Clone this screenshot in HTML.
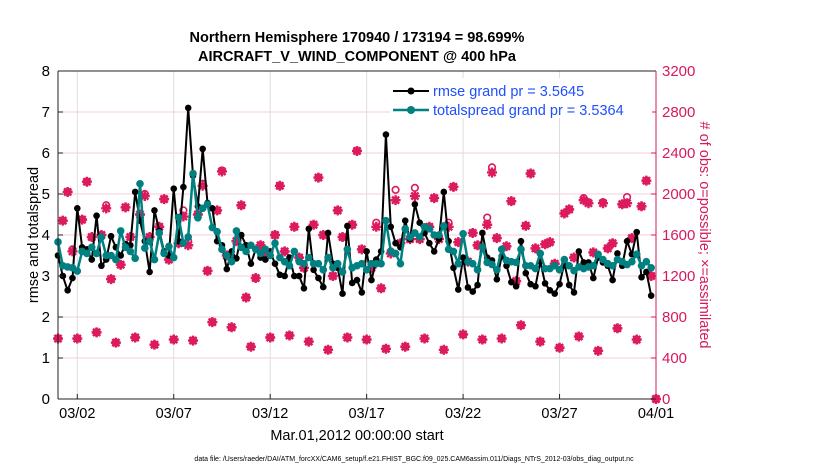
<!DOCTYPE html>
<html><head><meta charset="utf-8"><style>
body{margin:0;background:#fff;}
svg{display:block;font-family:"Liberation Sans",Arial,sans-serif;}
</style></head><body>
<svg id="chart" width="830" height="470" viewBox="0 0 830 470" xmlns="http://www.w3.org/2000/svg">
<rect x="0" y="0" width="830" height="470" fill="#fff"/>
<g id="grid"></g>
<g id="obs"></g>
<g id="lines"></g>
<g id="axes"></g>
<text x="357" y="42" text-anchor="middle" font-size="14.5" font-weight="bold">Northern Hemisphere 170940 / 173194 = 98.699%</text>
<text x="357" y="61" text-anchor="middle" font-size="14.5" font-weight="bold">AIRCRAFT_V_WIND_COMPONENT @ 400 hPa</text>
<text transform="translate(38,235) rotate(-90)" text-anchor="middle" font-size="14.5">rmse and totalspread</text>
<text transform="translate(700,235) rotate(90)" text-anchor="middle" font-size="14.5" fill="#d6195f"># of obs: o=possible; ×=assimilated</text>
<text x="357" y="440" text-anchor="middle" font-size="14.5">Mar.01,2012 00:00:00 start</text>
<text x="414" y="461" text-anchor="middle" font-size="7">data file: /Users/raeder/DAI/ATM_forcXX/CAM6_setup/f.e21.FHIST_BGC.f09_025.CAM6assim.011/Diags_NTrS_2012-03/obs_diag_output.nc</text>
<g id="legend">
<rect x="390" y="78" width="262" height="40" fill="#fff"/>
<line x1="393" y1="91" x2="429" y2="91" stroke="#000" stroke-width="2"/>
<circle cx="411" cy="91" r="3.5" fill="#000"/>
<text x="433" y="96" font-size="14.5" fill="#1f4fff">rmse grand pr = 3.5645</text>
<line x1="393" y1="110" x2="429" y2="110" stroke="#008080" stroke-width="2.5"/>
<circle cx="411" cy="110" r="4" fill="#008080"/>
<text x="433" y="115" font-size="14.5" fill="#1f4fff">totalspread grand pr = 3.5364</text>
</g>
</svg>
<script>
const xTickLabels = ["03/02","03/07","03/12","03/17","03/22","03/27","04/01"];
const xTickDays = [1,6,11,16,21,26,31];
const yTicksLeft = [0,1,2,3,4,5,6,7,8];
const yTicksRight = [0,400,800,1200,1600,2000,2400,2800,3200];
const rmse = [3.5,3.0,2.65,2.95,4.65,3.7,3.65,3.4,4.47,3.25,3.4,3.97,3.7,3.5,3.78,3.75,5.05,4.35,3.85,3.1,4.6,4.1,3.6,3.5,5.13,3.85,5.17,7.1,5.45,4.7,6.1,4.78,4.65,3.85,3.75,3.17,3.6,3.43,
4.0,3.75,3.3,3.65,3.45,3.4,3.6,3.3,3.03,3.0,3.45,3.0,3.0,2.7,4.15,3.15,2.95,2.73,4.05,3.3,3.2,2.57,4.22,2.83,2.9,2.6,3.6,2.9,3.4,3.6,6.45,4.2,3.8,3.7,4.35,3.9,4.75,4.3,4.05,3.8,3.6,3.9,
5.05,3.85,3.2,2.67,3.45,2.72,2.62,2.78,4.05,3.45,3.38,2.92,3.48,3.25,2.85,2.75,3.85,3.07,2.8,2.75,3.35,2.82,2.65,2.57,2.8,3.3,2.78,2.6,3.6,3.33,3.33,2.95,3.45,3.33,3.25,2.9,3.55,3.25,3.85,3.53,4.07,2.97,3.1,2.52];
const spread = [3.83,3.25,3.22,3.2,3.12,3.6,3.55,3.7,3.55,3.95,3.5,3.5,3.4,4.1,3.7,3.6,3.43,5.25,3.68,3.85,3.4,4.05,3.55,3.72,3.45,4.43,3.8,3.95,5.5,4.42,4.65,4.75,4.18,4.08,3.65,3.5,3.35,4.1,
3.7,3.6,3.75,3.65,3.55,3.65,3.5,3.8,3.45,3.35,3.25,3.6,3.35,3.3,3.45,3.3,3.3,3.15,3.45,3.2,3.3,3.1,3.65,3.2,3.25,3.3,3.15,3.3,3.3,3.3,4.35,3.6,3.55,3.3,4.15,3.95,4.05,3.95,4.2,4.15,4.0,4.0,
4.22,3.65,3.6,3.3,4.03,3.35,3.3,3.15,3.7,3.33,3.28,3.15,3.65,3.38,3.35,3.33,3.65,3.25,3.25,3.18,3.55,3.18,3.18,3.25,3.15,3.4,3.25,3.13,3.22,3.18,3.22,3.25,3.53,3.4,3.3,3.25,3.4,3.35,3.28,3.35,3.53,3.25,3.35,3.2];
const assimilated = [590,1740,2020,1440,590,1750,2120,1580,650,1600,1860,1170,550,1310,1870,1580,600,1800,1980,1580,530,1680,1950,1360,580,1520,1780,1500,570,1800,2080,1250,750,1840,2220,1400,700,1540,1890,990,510,1180,1500,1420,600,1600,2080,1440,620,1680,1380,1280,560,1700,2160,1600,480,1200,1840,1580,600,1700,2420,1460,580,1280,1680,1080,490,1420,1940,1520,510,1560,1980,1560,590,1680,1960,1560,
480,1680,2070,1530,630,1340,1620,1500,580,1700,2210,1570,590,1490,1930,1150,720,1690,2200,1470,560,1510,1530,1320,500,1810,1850,1380,610,1940,1910,1430,470,1910,1470,1520,690,1900,1910,1570,580,1880,2130,1200,0];
const possible = [590,1740,2020,1460,590,1750,2120,1580,650,1600,1890,1170,550,1310,1870,1580,600,1800,2000,1580,530,1680,1950,1360,580,1520,1840,1540,570,1800,2100,1250,750,1840,2230,1400,700,1540,1890,990,510,1180,1500,1420,600,1600,2080,1440,620,1680,1380,1280,560,1700,2160,1600,480,1200,1840,1580,600,1700,2420,1460,580,1280,1720,1080,490,1440,2040,1520,510,1560,2060,1560,590,1680,1960,1580,
480,1720,2070,1530,630,1340,1620,1500,580,1770,2260,1570,590,1490,1930,1150,720,1690,2200,1470,560,1510,1530,1320,500,1810,1850,1380,610,1960,1920,1430,470,1920,1470,1520,690,1900,1970,1570,580,1880,2130,1200,0];

const NS="http://www.w3.org/2000/svg";
const X0=58,X1=656,Y0=399,Y1=71;
const xDay=d=>X0+(X1-X0)*d/31;
const yL=v=>Y0-(Y0-Y1)*v/8;
const yR=v=>Y0-(Y0-Y1)*v/3200;
function mk(tag,attrs,parent){const e=document.createElementNS(NS,tag);for(const k in attrs)e.setAttribute(k,attrs[k]);parent.appendChild(e);return e;}
const grid=document.getElementById('grid'),axes=document.getElementById('axes'),obs=document.getElementById('obs'),lines=document.getElementById('lines');
yTicksRight.forEach(v=>{if(v>0&&v<3200){const l=mk('line',{x1:X0,x2:X1,y1:yR(v),y2:yR(v),stroke:'#f4cedd','stroke-width':1},grid);

}});
xTickDays.forEach((d,i)=>{if(d<31){const l=mk('line',{x1:xDay(d),x2:xDay(d),y1:Y1,y2:Y0,stroke:'#dddddd','stroke-width':1},grid);

}
const t=mk('text',{x:xDay(d),y:418,'text-anchor':'middle','font-size':14.5},axes);t.textContent=xTickLabels[i];


mk('line',{x1:xDay(d),x2:xDay(d),y1:Y0,y2:Y0-5,stroke:'#222'},axes);});
yTicksLeft.forEach(v=>{const t=mk('text',{x:X0-8,y:yL(v)+5,'text-anchor':'end','font-size':15},axes);t.textContent=v;


mk('line',{x1:X0,x2:X0+5,y1:yL(v),y2:yL(v),stroke:'#222'},axes);});
yTicksRight.forEach(v=>{const t=mk('text',{x:X1+6,y:yR(v)+5,'font-size':15,fill:'#d6195f'},axes);t.textContent=v;


mk('line',{x1:X1,x2:X1-5,y1:yR(v),y2:yR(v),stroke:'#d6195f'},axes);});
mk('line',{x1:X0,x2:X1,y1:Y1,y2:Y1,stroke:'#222','stroke-width':1},axes);
mk('line',{x1:X0,x2:X1,y1:Y0,y2:Y0,stroke:'#222','stroke-width':1},axes);
mk('line',{x1:X0,x2:X0,y1:Y1,y2:Y0,stroke:'#222','stroke-width':1},axes);
mk('line',{x1:X1,x2:X1,y1:Y1,y2:Y0,stroke:'#d6195f','stroke-width':1},axes);
const PC='#dc1a5e';
assimilated.forEach((v,i)=>{const cx=xDay(i/4),cy=yR(v);
const g=mk('g',{},obs);


const r=5;
mk('path',{d:`M${cx-r} ${cy}H${cx+r}M${cx} ${cy-r}V${cy+r}M${cx-3.6} ${cy-3.6}L${cx+3.6} ${cy+3.6}M${cx-3.6} ${cy+3.6}L${cx+3.6} ${cy-3.6}`,stroke:PC,'stroke-width':2.4},g);
const c=mk('circle',{cx:cx,cy:yR(possible[i]),r:3.3,fill:'none',stroke:PC,'stroke-width':1.6},obs);

});
function series(vals,color,w,r,name){
const p=vals.map((v,i)=>`${i?'L':'M'}${xDay(i/4).toFixed(1)} ${yL(v).toFixed(1)}`).join('');
const pl=mk('path',{d:p,fill:'none',stroke:color,'stroke-width':w,'stroke-linejoin':'round'},lines);


vals.forEach((v,i)=>{const c=mk('circle',{cx:xDay(i/4),cy:yL(v),r:r,fill:color},lines);

});}
series(rmse,'#000',2,3.3,'rmse');
series(spread,'#008080',2.5,3.8,'totalspread');
</script>
</body></html>
